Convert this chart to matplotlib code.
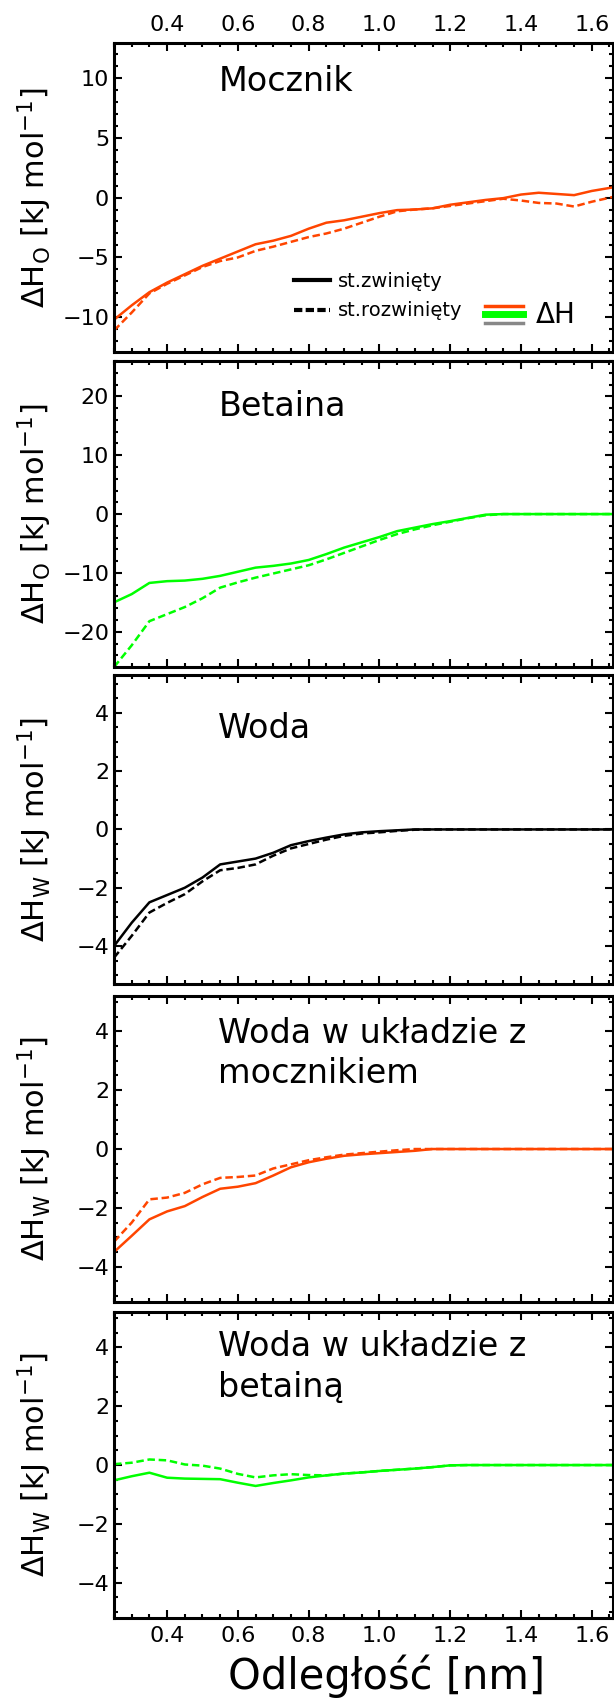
import matplotlib
matplotlib.use("Agg")
import matplotlib.pyplot as plt
from matplotlib.lines import Line2D
from matplotlib.ticker import MultipleLocator

# distance grid [nm]
x = [0.25, 0.30, 0.35, 0.40, 0.45, 0.50, 0.55, 0.60, 0.65, 0.70, 0.75, 0.80, 0.85, 0.90, 0.95,
     1.00, 1.05, 1.10, 1.15, 1.20, 1.25, 1.30, 1.35, 1.40, 1.45, 1.50, 1.55, 1.60, 1.66]

# Mocznik (urea), dH_O
mocz_zw = [-10.2, -9.0, -7.9, -7.1, -6.4, -5.7, -5.1, -4.5, -3.9, -3.6, -3.2, -2.6, -2.1, -1.9, -1.6,
           -1.3, -1.05, -1.0, -0.9, -0.6, -0.4, -0.2, -0.05, 0.25, 0.4, 0.3, 0.2, 0.55, 0.85]
mocz_rozw = [-11.1, -9.6, -8.0, -7.2, -6.5, -5.8, -5.3, -5.0, -4.45, -4.1, -3.7, -3.3, -3.0, -2.6, -2.1,
             -1.6, -1.15, -1.0, -0.9, -0.7, -0.5, -0.3, -0.1, -0.25, -0.45, -0.5, -0.75, -0.35, 0.05]

# Betaina, dH_O
bet_zw = [-15.0, -13.6, -11.7, -11.4, -11.3, -11.0, -10.5, -9.8, -9.1, -8.8, -8.4, -7.8, -6.8, -5.7, -4.8,
          -3.9, -2.9, -2.3, -1.7, -1.2, -0.65, -0.1, 0, 0, 0, 0, 0, 0, 0]
bet_rozw = [-26.0, -22.3, -18.2, -17.0, -15.8, -14.3, -12.5, -11.6, -10.8, -10.1, -9.4, -8.7, -7.7, -6.6, -5.5,
            -4.4, -3.4, -2.6, -1.9, -1.3, -0.7, -0.2, 0, 0, 0, 0, 0, 0, 0]

# Woda, dH_W
woda_zw = [-4.0, -3.2, -2.5, -2.25, -2.0, -1.65, -1.2, -1.1, -1.0, -0.8, -0.54, -0.4, -0.28, -0.17, -0.1,
           -0.06, -0.03, 0, 0, 0, 0, 0, 0, 0, 0, 0, 0, 0, 0]
woda_rozw = [-4.4, -3.65, -2.85, -2.52, -2.22, -1.78, -1.4, -1.32, -1.2, -0.9, -0.65, -0.5, -0.35, -0.22, -0.14,
             -0.1, -0.05, -0.01, 0, 0, 0, 0, 0, 0, 0, 0, 0, 0, 0]

# Woda w ukladzie z mocznikiem
wm_zw = [-3.5, -2.95, -2.39, -2.12, -1.94, -1.63, -1.35, -1.28, -1.16, -0.9, -0.62, -0.45, -0.33, -0.23, -0.18,
         -0.14, -0.1, -0.06, 0, 0, 0, 0, 0, 0, 0, 0, 0, 0, 0]
wm_rozw = [-3.15, -2.5, -1.71, -1.65, -1.49, -1.2, -0.98, -0.95, -0.9, -0.66, -0.52, -0.38, -0.28, -0.19, -0.14,
           -0.09, -0.04, 0, 0, 0, 0, 0, 0, 0, 0, 0, 0, 0, 0]

# Woda w ukladzie z betaina
wb_zw = [-0.52, -0.38, -0.26, -0.43, -0.46, -0.47, -0.48, -0.6, -0.71, -0.61, -0.52, -0.42, -0.35, -0.29, -0.25,
         -0.2, -0.16, -0.12, -0.07, -0.01, 0, 0, 0, 0, 0, 0, 0, 0, 0]
wb_rozw = [0.03, 0.08, 0.19, 0.16, 0.02, -0.02, -0.12, -0.3, -0.42, -0.35, -0.31, -0.34, -0.35, -0.29, -0.25,
           -0.2, -0.16, -0.12, -0.07, -0.01, 0, 0, 0, 0, 0, 0, 0, 0, 0]

ORANGE = "#ff4500"
GREEN = "#00ff00"

panels = [
    ("Mocznik", mocz_zw, mocz_rozw, ORANGE, "O", (-12.9, 12.9), 5, 1),
    ("Betaina", bet_zw, bet_rozw, GREEN, "O", (-26, 26), 10, 2),
    ("Woda", woda_zw, woda_rozw, "black", "W", (-5.3, 5.3), 2, 0.5),
    ("Woda w układzie z\nmocznikiem", wm_zw, wm_rozw, ORANGE, "W", (-5.2, 5.2), 2, 0.5),
    ("Woda w układzie z\nbetainą", wb_zw, wb_rozw, GREEN, "W", (-5.2, 5.2), 2, 0.5),
]
title_y = [0.874, 0.85, 0.828, 0.812, 0.82]
bottoms = [0.7929, 0.6076, 0.4212, 0.2341, 0.0482]
heights = [0.1818, 0.18, 0.1818, 0.18, 0.18]

fig = plt.figure(figsize=(6.14, 17.0), dpi=100)

axes = []
for i, (name, zw, rozw, col, sub, ylim, major, minor) in enumerate(panels):
    ax = fig.add_axes([0.1857, bottoms[i], 0.8127, heights[i]])
    ax.plot(x, zw, color=col, lw=1.8, ls="-")
    ax.plot(x, rozw, color=col, lw=1.8, ls=(0, (3, 1.5)))
    ax.set_xlim(0.25, 1.66)
    ax.set_ylim(*ylim)
    ax.xaxis.set_major_locator(MultipleLocator(0.2))
    ax.xaxis.set_minor_locator(MultipleLocator(0.05))
    ax.yaxis.set_major_locator(MultipleLocator(major))
    ax.yaxis.set_minor_locator(MultipleLocator(minor))
    ax.tick_params(which="both", direction="in", top=True, right=True, labelsize=16, width=1.5)
    ax.tick_params(which="major", length=6)
    ax.tick_params(which="minor", length=3)
    ax.tick_params(axis="x", labelbottom=(i == 4), labeltop=(i == 0), pad=6)
    ax.xaxis.set_major_formatter(matplotlib.ticker.FormatStrFormatter("%.1f"))
    for s in ax.spines.values():
        s.set_linewidth(2.2)
    ax.set_ylabel("ΔH$_\\mathregular{%s}$ [kJ mol$^\\mathregular{-1}$]" % sub, fontsize=22)
    ax.yaxis.set_label_coords(-0.12, 0.5)
    ax.text(0.209, title_y[i], name, transform=ax.transAxes, fontsize=24,
            va="center", ha="left", linespacing=1.3)
    axes.append(ax)

# style legend in first panel
ax = axes[0]
handles = [Line2D([], [], color="black", lw=3, ls="-"),
           Line2D([], [], color="black", lw=3, ls=(0, (2, 0.8)))]
ax.legend(handles, ["st.zwinięty", "st.rozwinięty"], loc="center left",
          bbox_to_anchor=(0.361, 0.181), frameon=False, fontsize=14,
          handlelength=1.85, handletextpad=0.4, labelspacing=0.55,
          borderpad=0, borderaxespad=0)

# colour key
for yk, c, w in [(0.149, ORANGE, 2.5), (0.123, GREEN, 5), (0.094, "#888888", 2.5)]:
    ax.add_line(Line2D([0.743, 0.82], [yk, yk], color=c, lw=w, transform=ax.transAxes))
ax.text(0.846, 0.12, "ΔH", transform=ax.transAxes, fontsize=20, va="center", ha="left")

fig.text(0.629, 0.014, "Odległość [nm]", fontsize=30, ha="center", va="center")

fig.savefig("out.png", dpi=100)
